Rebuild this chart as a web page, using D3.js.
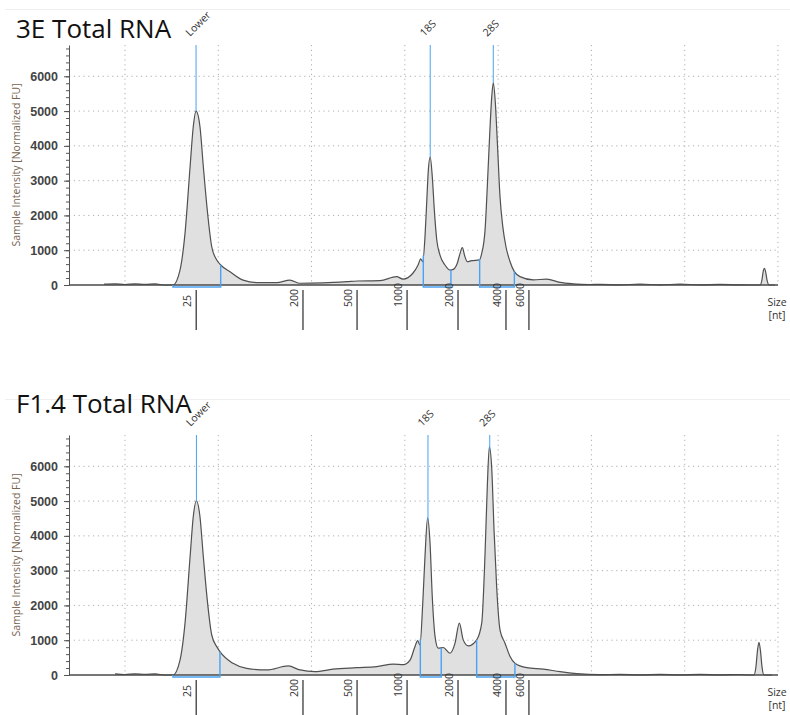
<!DOCTYPE html>
<meta charset="utf-8">

<script src="https://d3js.org/d3.v7.min.js"></script>

<style type="text/css">

body {
  margin: 0;
  background: #fff;
}

text {
  font-family: "Open Sans", sans-serif;
}

.titleText {
  fill: #111;
}

.grid line {
  stroke: #b0b0b0;
  stroke-width: 1px;
  stroke-dasharray: 1.2 3.6;
}

.yaxis path,
.yaxis line {
  stroke: #555;
}

.yaxis text {
  font-family: "Liberation Sans", Arial, sans-serif;
  font-size: 12.5px;
  font-weight: bold;
  fill: #444;
}

.yLabel {
  font-size: 10.5px;
  fill: #75644f;
}

.markerText,
.ladderText,
.sizeText {
  font-size: 10.5px;
  fill: #333;
}

.trace {
  fill: #e0e0e0;
}

.traceLine {
  fill: none;
  stroke: #505050;
  stroke-width: 1.2px;
}

.blue {
  stroke: #4aa2f2;
  fill: none;
}

</style>

<body>
  <div id="chart"></div>
</body>

<script>

  // ---------------------------//
  //            DATA            //
  // ---------------------------//

  const panelTitles = ["3E Total RNA", "F1.4 Total RNA"];

  // migration time (s) and fluorescence (FU), 3E sample
  const timeTop = [
    18.88, 19.47, 20.00, 20.54, 21.07, 21.61, 22.15, 22.57, 22.95, 23.22,
    23.49, 23.66, 23.81, 24.02, 24.20, 24.41, 24.65, 24.92, 25.13, 25.63,
    26.33, 27.06, 28.13, 28.84, 29.38, 30.61, 31.90, 32.44, 33.67, 34.56,
    34.90, 35.44, 35.71, 35.85, 35.96, 36.08, 36.17, 36.26, 36.36, 36.47,
    36.58, 36.71, 36.88, 37.15, 37.42, 37.60, 37.81, 37.96, 38.08, 38.22,
    38.35, 38.58, 38.99, 39.12, 39.30, 39.42, 39.56, 39.66, 39.74, 39.85,
    39.96, 40.10, 40.25, 40.42, 40.64, 40.87, 41.17, 41.89, 42.60, 43.32,
    44.01, 44.92, 45.46, 46.53, 47.60, 48.68, 49.75, 50.82, 51.89, 52.86,
    53.50, 54.04, 54.14, 54.21, 54.27, 54.33, 54.41, 54.52, 54.84
  ];
  const fuTop = [
    25, 35, 15, 35, 20, 30, 0, 0, 430, 1500,
    3400, 4550, 5000, 4550, 3400, 2160, 1100, 720, 575, 380,
    140, 70, 70, 140, 50, 60, 95, 115, 125, 240,
    170, 345, 575, 750, 670, 1390, 2360, 3310, 3680, 3120,
    2160, 1300, 865, 575, 430, 450, 625, 910, 1075, 815,
    670, 700, 720, 910, 1585, 2830, 4470, 5430, 5810, 5240,
    4080, 2545, 1680, 1100, 670, 385, 240, 145, 170, 75,
    35, 15, 20, 5, 25, 5, 25, 5, 20, 5,
    0, 0, 150, 400, 480, 400, 150, 0, 0
  ];

  // F1.4 sample
  const timeBottom = [
    19.47, 20.00, 20.54, 21.07, 21.61, 22.15, 22.57, 22.95, 23.22, 23.49,
    23.66, 23.83, 24.02, 24.20, 24.41, 24.65, 24.92, 25.09, 25.79, 26.52,
    27.60, 28.75, 29.38, 30.18, 31.15, 32.42, 33.49, 34.38, 34.92, 35.28,
    35.54, 35.69, 35.81, 35.96, 36.08, 36.22, 36.35, 36.47, 36.62, 36.79,
    37.06, 37.42, 37.69, 37.92, 38.13, 38.40, 38.85, 39.12, 39.30, 39.42,
    39.53, 39.66, 39.78, 39.92, 40.10, 40.37, 40.64, 40.90, 41.53, 42.42,
    43.32, 44.21, 45.46, 46.53, 47.60, 48.68, 49.75, 50.82, 51.89, 52.86,
    53.50, 53.71, 53.82, 53.90, 53.98, 54.06, 54.14, 54.25, 54.68
  ];
  const fuBottom = [
    30, 15, 35, 20, 30, 0, 0, 430, 1500, 3400,
    4550, 5010, 4550, 3400, 2160, 1150, 815, 670, 335, 190,
    145, 260, 145, 95, 170, 210, 240, 315, 300, 430,
    815, 990, 865, 2065, 3410, 4515, 3795, 2255, 1105, 770,
    790, 625, 915, 1490, 1010, 835, 1010, 1490, 3505, 5425,
    6560, 5910, 4180, 2545, 1300, 915, 530, 335, 210, 170,
    95, 40, 10, 20, 5, 20, 5, 20, 5, 15,
    0, 0, 250, 700, 940, 700, 250, 0, 0
  ];

  const markerNames = ["Lower", "18S", "28S"];
  const markerTimesTop = [23.81, 36.36, 39.74];
  const markerTimesBottom = [23.83, 36.24, 39.55];

  // peak integration windows (start / end time)
  const regionStartTop = [22.57, 35.99, 39.01];
  const regionEndTop = [25.13, 37.47, 40.87];
  const regionStartBottom = [22.57, 35.83, 38.85];
  const regionEndBottom = [25.09, 36.95, 40.90];

  const ladderSizes = ["25", "200", "500", "1000", "2000", "4000", "6000"];
  const ladderTimes = [23.82, 29.54, 32.44, 35.12, 37.85, 40.42, 41.65];

  const yTicks = [0, 1000, 2000, 3000, 4000, 5000, 6000];
  const gridTimes = [20, 25, 30, 35, 40, 45, 50, 55];

  // ---------------------------//
  //           LAYOUT           //
  // ---------------------------//

  const outerWidth = 790;
  const outerHeight = 715;
  const plotLeft = 69;
  const plotRight = 778;
  const plotTop = 45;
  const plotBase = 285;
  const panelOffsets = [0, 390];

  const SVG = d3.select("#chart").append("svg")
    .attr("width", outerWidth)
    .attr("height", outerHeight);

  const x = d3.scaleLinear().domain([17, 55]).range([plotLeft, plotRight]);
  const y = d3.scaleLinear().domain([0, 6900]).range([plotBase, plotTop]);

  function valueAt(times, values, t) {
    const i = d3.bisectLeft(times, t);
    if (i <= 0) return values[0];
    if (i >= times.length) return values[values.length - 1];
    const f = (t - times[i - 1]) / (times[i] - times[i - 1]);
    return values[i - 1] + f * (values[i] - values[i - 1]);
  }

  // ---------------------------//
  //           PANELS           //
  // ---------------------------//

  function drawPanel(k, times, values, markerTimes, regStart, regEnd) {

    const g = SVG.append("g").attr("transform", "translate(0," + panelOffsets[k] + ")");

    // faint frame line on top
    g.append("line")
      .attr("x1", 5).attr("x2", outerWidth)
      .attr("y1", 9.5).attr("y2", 9.5)
      .style("stroke", "#efefef");

    // grid
    const grid = g.append("g").classed("grid", true);
    grid.selectAll(".hg")
      .data(yTicks.slice(1))
      .enter().append("line")
      .attr("x1", plotLeft).attr("x2", plotRight)
      .attr("y1", d => y(d)).attr("y2", d => y(d));
    grid.selectAll(".vg")
      .data(gridTimes)
      .enter().append("line")
      .attr("x1", d => x(d)).attr("x2", d => x(d))
      .attr("y1", plotTop).attr("y2", plotBase);

    // trace
    const pts = d3.zip(times, values);
    const area = d3.area()
      .x(d => x(d[0]))
      .y0(y(0))
      .y1(d => y(d[1]))
      .curve(d3.curveMonotoneX);
    const line = d3.line()
      .x(d => x(d[0]))
      .y(d => y(d[1]))
      .curve(d3.curveMonotoneX);

    g.append("path").datum(pts).classed("trace", true).attr("d", area);
    g.append("path").datum(pts).classed("traceLine", true).attr("d", line);

    // y axis: minor then major ticks
    g.append("g")
      .classed("yaxis", true)
      .attr("transform", "translate(" + plotLeft + ",0)")
      .call(d3.axisLeft(y).tickValues(d3.range(0, 6900, 200)).tickSize(3).tickFormat(""))
      .call(a => a.select(".domain").remove());
    g.append("g")
      .classed("yaxis", true)
      .attr("transform", "translate(" + plotLeft + ",0)")
      .call(d3.axisLeft(y).tickValues(yTicks).tickFormat(d3.format("d"))
        .tickSize(5).tickPadding(6).tickSizeOuter(0));

    // x baseline
    g.append("line")
      .attr("x1", plotLeft).attr("x2", plotRight)
      .attr("y1", y(0)).attr("y2", y(0))
      .style("stroke", "#4a4a4a")
      .style("stroke-width", 1.6);

    // peak windows
    regStart.forEach((s, i) => {
      const e = regEnd[i];
      g.append("path")
        .classed("blue", true)
        .style("stroke-width", 1.4)
        .attr("d", d3.line()([
          [x(s), y(valueAt(times, values, s))],
          [x(s), y(0) + 2],
          [x(e), y(0) + 2],
          [x(e), y(valueAt(times, values, e))]
        ]));
    });

    // markers
    markerTimes.forEach((t, i) => {
      g.append("line")
        .classed("blue", true)
        .attr("x1", x(t)).attr("x2", x(t))
        .attr("y1", plotTop).attr("y2", y(valueAt(times, values, t)));
      g.append("text")
        .classed("markerText", true)
        .attr("transform", "translate(" + (x(t) - 6) + ",37) rotate(-45)")
        .text(markerNames[i]);
    });

    // ladder
    g.selectAll(".ladderLine")
      .data(ladderTimes)
      .enter().append("line")
      .attr("x1", d => x(d)).attr("x2", d => x(d))
      .attr("y1", plotBase + 5).attr("y2", plotBase + 45)
      .style("stroke", "#555")
      .style("stroke-width", 1.5);
    g.selectAll(".ladderText")
      .data(ladderTimes)
      .enter().append("text")
      .classed("ladderText", true)
      .attr("transform", d => "translate(" + (x(d) - 5) + "," + (plotBase + 22) + ") rotate(-90)")
      .text((d, i) => ladderSizes[i]);

    // y label
    g.append("text")
      .classed("yLabel", true)
      .attr("transform", "translate(20," + (plotTop + 120) + ") rotate(-90)")
      .style("text-anchor", "middle")
      .text("Sample Intensity [Normalized FU]");

    g.append("text").classed("sizeText", true)
      .attr("x", 777).attr("y", plotBase + 21)
      .style("text-anchor", "middle").text("Size");
    g.append("text").classed("sizeText", true)
      .attr("x", 777).attr("y", plotBase + 34)
      .style("text-anchor", "middle").text("[nt]");

    // title
    g.append("text")
      .classed("titleText", true)
      .attr("x", 16)
      .attr("y", k === 0 ? 38 : 22.7)
      .style("font-size", "26px")
      .text(panelTitles[k]);
  }

  drawPanel(0, timeTop, fuTop, markerTimesTop, regionStartTop, regionEndTop);
  drawPanel(1, timeBottom, fuBottom, markerTimesBottom, regionStartBottom, regionEndBottom);

</script>
